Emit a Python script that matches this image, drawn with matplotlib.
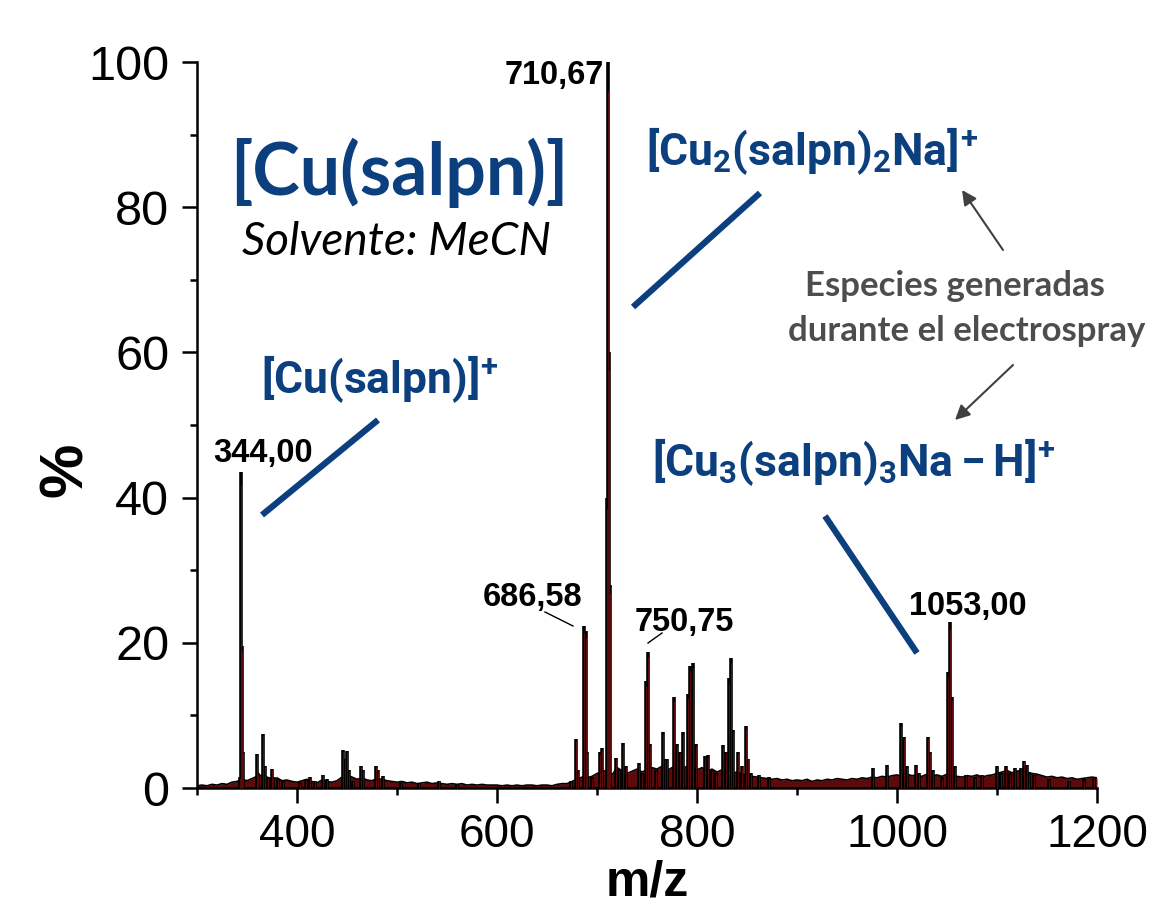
import numpy as np
import matplotlib
matplotlib.use('Agg')
import matplotlib.pyplot as plt
from matplotlib.lines import Line2D
from matplotlib.ticker import MultipleLocator, FixedLocator

# ---------------- data ----------------
peak_mz = [342.5, 344.0, 345.0, 346.0, 359.5, 361.0, 365.5, 367.5, 371.0, 374.5,
           376.0, 381.0, 386.0, 403.0, 409.0, 413.0, 418.0, 426.0, 430.0, 446.0,
           448.0, 450.0, 452.0, 456.0, 464.0, 466.0, 479.0, 481.0, 486.0, 504.0,
           522.0, 542.0, 560.0, 674.0, 679.0, 681.0, 686.58, 688.5, 690.0, 695.0,
           702.5, 705.0, 709.7, 710.67, 711.7, 712.7, 718.6, 721.6, 725.6, 728.6,
           741.6, 744.6, 748.6, 750.75, 752.6, 758.6, 765.5, 767.5, 769.5, 776.5,
           779.5, 782.5, 785.5, 790.5, 792.5, 795.5, 798.5, 807.5, 810.5, 814.5,
           818.5, 825.7, 828.5, 831.5, 833.5, 835.5, 840.5, 844.5, 848.5, 850.5,
           854.4, 862.0, 872.0, 976.3, 990.3, 1004.3, 1007.3, 1010.0, 1019.3, 1022.0,
           1031.3, 1033.3, 1036.0, 1045.0, 1051.3, 1053.0, 1055.0, 1058.0, 1069.0, 1078.0,
           1085.0, 1100.2, 1104.0, 1109.0, 1113.0, 1118.0, 1124.0, 1127.0, 1130.0, 1132.0,
           1137.0, 1152.0, 1172.0, 1187.0, 1197.0]
peak_int = [1.5, 43.5, 19.5, 5.0, 4.7, 2.0, 7.4, 3.0, 1.5, 2.6,
            1.5, 1.2, 1.0, 0.8, 1.2, 1.5, 1.0, 1.8, 1.2, 5.2,
            4.0, 5.1, 2.5, 1.0, 3.0, 2.5, 3.0, 2.5, 1.6, 1.0,
            0.7, 1.0, 0.6, 1.0, 6.7, 2.5, 22.3, 21.6, 5.0, 1.5,
            4.9, 5.5, 40.0, 100.0, 60.0, 28.0, 4.1, 2.5, 6.2, 3.0,
            3.5, 2.0, 14.7, 18.8, 6.0, 2.5, 7.7, 4.0, 4.0, 12.5,
            6.0, 5.0, 7.7, 12.9, 16.8, 17.2, 6.0, 4.4, 4.5, 2.5,
            2.0, 5.9, 5.0, 15.1, 17.9, 8.0, 4.9, 3.0, 8.5, 4.0,
            2.0, 1.8, 1.5, 2.7, 3.1, 8.9, 7.0, 3.0, 3.2, 2.0,
            7.0, 5.0, 2.5, 1.5, 16.0, 22.8, 12.6, 3.0, 1.8, 1.5,
            1.8, 3.0, 2.0, 3.0, 2.0, 2.7, 2.8, 3.7, 3.2, 2.0,
            1.8, 1.2, 1.0, 1.2, 1.4]

noise_start, noise_step = 300, 5
noise_int = [0.3, 0.4, 0.3, 0.5, 0.4, 0.6, 0.5, 0.8, 0.9, 1.2,
             1.0, 1.3, 1.6, 1.8, 1.5, 1.2, 1.4, 1.0, 1.1, 0.9,
             0.8, 1.0, 1.2, 0.9, 0.7, 1.1, 0.9, 0.8, 1.0, 1.5,
             1.8, 1.5, 1.2, 1.4, 1.1, 1.0, 1.3, 1.2, 1.0, 0.9,
             0.8, 0.9, 0.7, 0.8, 0.6, 0.7, 0.8, 0.6, 0.7, 0.6,
             0.5, 0.6, 0.5, 0.6, 0.4, 0.5, 0.4, 0.5, 0.4, 0.4,
             0.4, 0.3, 0.4, 0.3, 0.4, 0.3, 0.4, 0.4, 0.3, 0.4,
             0.4, 0.3, 0.5, 0.6, 0.6, 0.9, 1.2, 1.5, 1.4, 1.6,
             2.0, 2.2, 2.5, 1.8, 2.8, 2.4, 2.0, 2.3, 2.6, 2.2,
             2.5, 2.8, 2.6, 3.0, 2.4, 2.8, 3.2, 2.6, 3.0, 2.8,
             2.5, 2.8, 2.3, 2.6, 2.2, 2.5, 2.4, 2.0, 2.2, 1.9,
             1.8, 1.6, 1.5, 1.4, 1.3, 1.2, 1.3, 1.1, 1.2, 1.0,
             1.1, 1.0, 1.2, 0.9, 1.1, 1.0, 1.2, 1.1, 1.3, 1.2,
             1.1, 1.3, 1.2, 1.4, 1.3, 1.5, 1.4, 1.6, 1.5, 1.7,
             1.8, 1.6, 1.9, 1.7, 1.8, 1.6, 1.9, 1.7, 1.8, 1.6,
             1.9, 1.7, 1.6, 1.5, 1.7, 1.6, 1.8, 1.5, 1.7, 1.8,
             2.0, 2.2, 2.4, 2.1, 2.3, 2.5, 2.2, 2.0, 1.9, 1.7,
             1.5, 1.6, 1.4, 1.5, 1.3, 1.4, 1.2, 1.3, 1.4, 1.5,
             1.4]
noise_mz = noise_start + noise_step * np.arange(len(noise_int))

label_text = ["344,00", "686,58", "710,67", "750,75", "1053,00"]
xticks_major = [400, 600, 800, 1000, 1200]
yticks_major = [0, 20, 40, 60, 80, 100]

# ---------------- figure ----------------
W, H = 1150, 916
fig = plt.figure(figsize=(W / 100, H / 100), dpi=100)
ax = fig.add_axes([197 / W, 1 - 788 / H, 900 / W, (788 - 62) / H])

def fp(px, py):
    return (px / W, 1 - py / H)

BLUE = '#0b3f7e'
GRAY = '#4d4d4d'
ARIAL = ['Liberation Sans', 'DejaVu Sans']

ax.fill_between(noise_mz, 0, noise_int, color='#5c0a0a', lw=0, zorder=2)
ax.plot(noise_mz, noise_int, color='black', lw=1.2, zorder=3)
ax.vlines(peak_mz, 0, peak_int, color='black', lw=2.6, zorder=4, clip_on=False)
ax.vlines(peak_mz, 0, np.array(peak_int) * 0.96, color='#6a0d0d', lw=0.6, zorder=5, clip_on=False)

ax.set_xlim(300, 1200)
ax.set_ylim(0, 100)
for s in ['top', 'right']:
    ax.spines[s].set_visible(False)
for s in ['left', 'bottom']:
    ax.spines[s].set_linewidth(1.8)
ax.xaxis.set_major_locator(FixedLocator(xticks_major))
ax.xaxis.set_minor_locator(MultipleLocator(200, offset=100))
ax.yaxis.set_major_locator(FixedLocator(yticks_major))
ax.yaxis.set_minor_locator(MultipleLocator(20, offset=10))
ax.tick_params(which='major', direction='out', length=11, width=1.8, pad=7)
ax.tick_params(axis='x', which='major', labelsize=33)
ax.tick_params(axis='y', which='major', labelsize=35, pad=9)
ax.tick_params(which='minor', direction='out', length=5, width=1.8)
for lab in ax.get_xticklabels() + ax.get_yticklabels():
    lab.set_family(ARIAL)

ax.set_xlabel('m/z', fontsize=36, fontweight='bold', family=ARIAL, labelpad=2)
fig.text(*fp(66, 470), '%', fontsize=44, fontweight='bold', family=ARIAL,
         rotation=90, ha='center', va='center')

# peak labels
label_pos = [(263, 462), (533, 606), (554, 84), (684, 631), (968, 615)]
for t, (px, py) in zip(label_text, label_pos):
    fig.text(*fp(px, py), t, fontsize=23.5, fontweight='bold', family=ARIAL,
             ha='center', va='baseline')
for (x0, y0, x1, y1) in [(545, 612, 573, 626), (662, 633, 648, 643)]:
    fig.add_artist(Line2D([x0 / W, x1 / W], [1 - y0 / H, 1 - y1 / H],
                          transform=fig.transFigure, color='black', lw=1.0))

# title texts
fig.text(*fp(399, 195), '[Cu(salpn)]', fontsize=51.5, family=['Lato', 'DejaVu Sans'],
         fontweight='bold', color=BLUE, ha='center', va='baseline')
fig.text(*fp(397, 255), 'Solvente: MeCN', fontsize=33, family=['Lato', 'DejaVu Sans'],
         style='italic', color='black', ha='center', va='baseline')

plt.rcParams['mathtext.fontset'] = 'custom'
plt.rcParams['mathtext.bf'] = 'Roboto:bold'
plt.rcParams['mathtext.rm'] = 'Roboto:bold'
plt.rcParams['mathtext.it'] = 'Roboto:bold'

fig.text(*fp(812, 165), r'$\mathbf{[Cu_2(salpn)_2Na]^{\!+}}$', fontsize=32,
         color=BLUE, ha='center', va='baseline')
fig.text(*fp(380, 393), r'$\mathbf{[Cu(salpn)]^{\!+}}$', fontsize=32,
         color=BLUE, ha='center', va='baseline')
fig.text(*fp(854, 476), r'$\mathbf{[Cu_3(salpn)_3Na - H]^{\!+}}$', fontsize=32,
         color=BLUE, ha='center', va='baseline')

for (x0, y0, x1, y1) in [(262, 515, 378, 420), (633, 307, 760, 193), (825, 516, 917, 653)]:
    fig.add_artist(Line2D([x0 / W, x1 / W], [1 - y0 / H, 1 - y1 / H],
                          transform=fig.transFigure, color=BLUE, lw=4.5,
                          solid_capstyle='butt'))

fig.text(*fp(955, 296), 'Especies generadas', fontsize=25, fontweight='bold',
         family=['Lato', 'DejaVu Sans'], color=GRAY, ha='center', va='baseline')
fig.text(*fp(967, 341), 'durante el electrospray', fontsize=25, fontweight='bold',
         family=['Lato', 'DejaVu Sans'], color=GRAY, ha='center', va='baseline')

for (x0, y0, x1, y1) in [(1003, 250, 962, 190), (1013, 365, 955, 420)]:
    ax.annotate('', xy=(x1, H - y1), xycoords='figure pixels',
                xytext=(x0, H - y0), textcoords='figure pixels',
                arrowprops=dict(arrowstyle='-|>', color='#404040', lw=1.5,
                                mutation_scale=22, shrinkA=0, shrinkB=0))

fig.savefig('out.png', dpi=100)
